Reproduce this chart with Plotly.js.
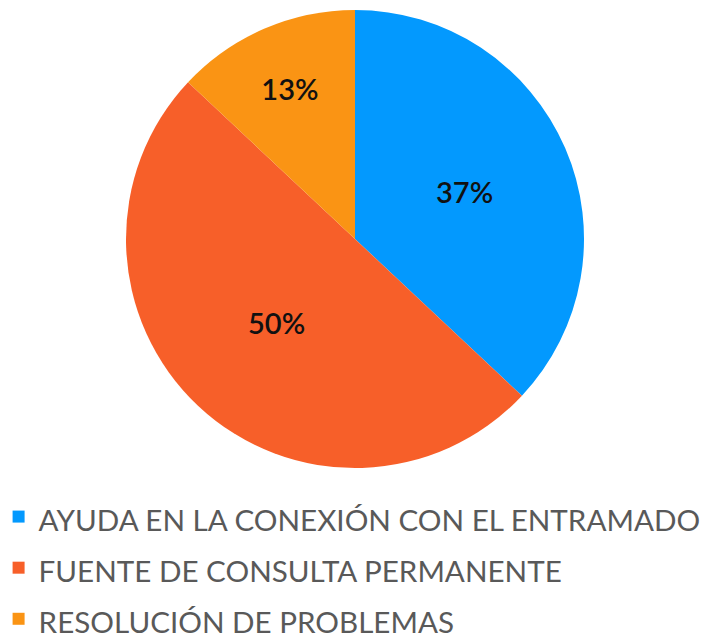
<!DOCTYPE html>
<html>
<head>
<meta charset="utf-8">
<script src="https://cdn.plot.ly/plotly-3.0.1.min.js"></script>
<style>
  html, body { margin: 0; padding: 0; background: #fff; }
  #chart { width: 705px; height: 637px; }
</style>
</head>
<body>
<div id="chart"></div>
<script>
const labels = [
    'AYUDA EN LA CONEXIÓN CON EL ENTRAMADO',
    'FUENTE DE CONSULTA PERMANENTE',
    'RESOLUCIÓN DE PROBLEMAS'
]
const values = [37, 50, 13]
const colors = ['#0399FE', '#F75F29', '#FA9414']

// legend rows are spaced wider than the text, so the text is shrunk in a span
const legendLabels = labels.map(function (l) {
    return '<span style="font-size:29.6px">' + l + '</span>'
})

const trace = {
    type: 'pie',
    labels: legendLabels,
    values: values,
    sort: false,
    direction: 'clockwise',
    rotation: 0,
    marker: { colors: colors, line: { width: 0 } },
    textinfo: 'percent',
    textposition: 'inside',
    insidetextorientation: 'horizontal',
    insidetextfont: { family: 'Lato, sans-serif', size: 29, color: '#111', weight: 600 },
    hoverinfo: 'percent',
    domain: { x: [0.1787, 0.8284], y: [0.2653, 0.9843] }
}

const layout = {
    width: 705,
    height: 637,
    margin: { l: 0, r: 0, t: 0, b: 0, autoexpand: false },
    paper_bgcolor: '#fff',
    showlegend: true,
    legend: {
        x: -0.002,
        y: 0.237,
        xanchor: 'left',
        yanchor: 'top',
        font: { family: 'Lato, sans-serif', size: 37, color: '#595959' },
        itemwidth: 30
    }
}

Plotly.newPlot('chart', [trace], layout, { displayModeBar: false })
</script>
</body>
</html>
